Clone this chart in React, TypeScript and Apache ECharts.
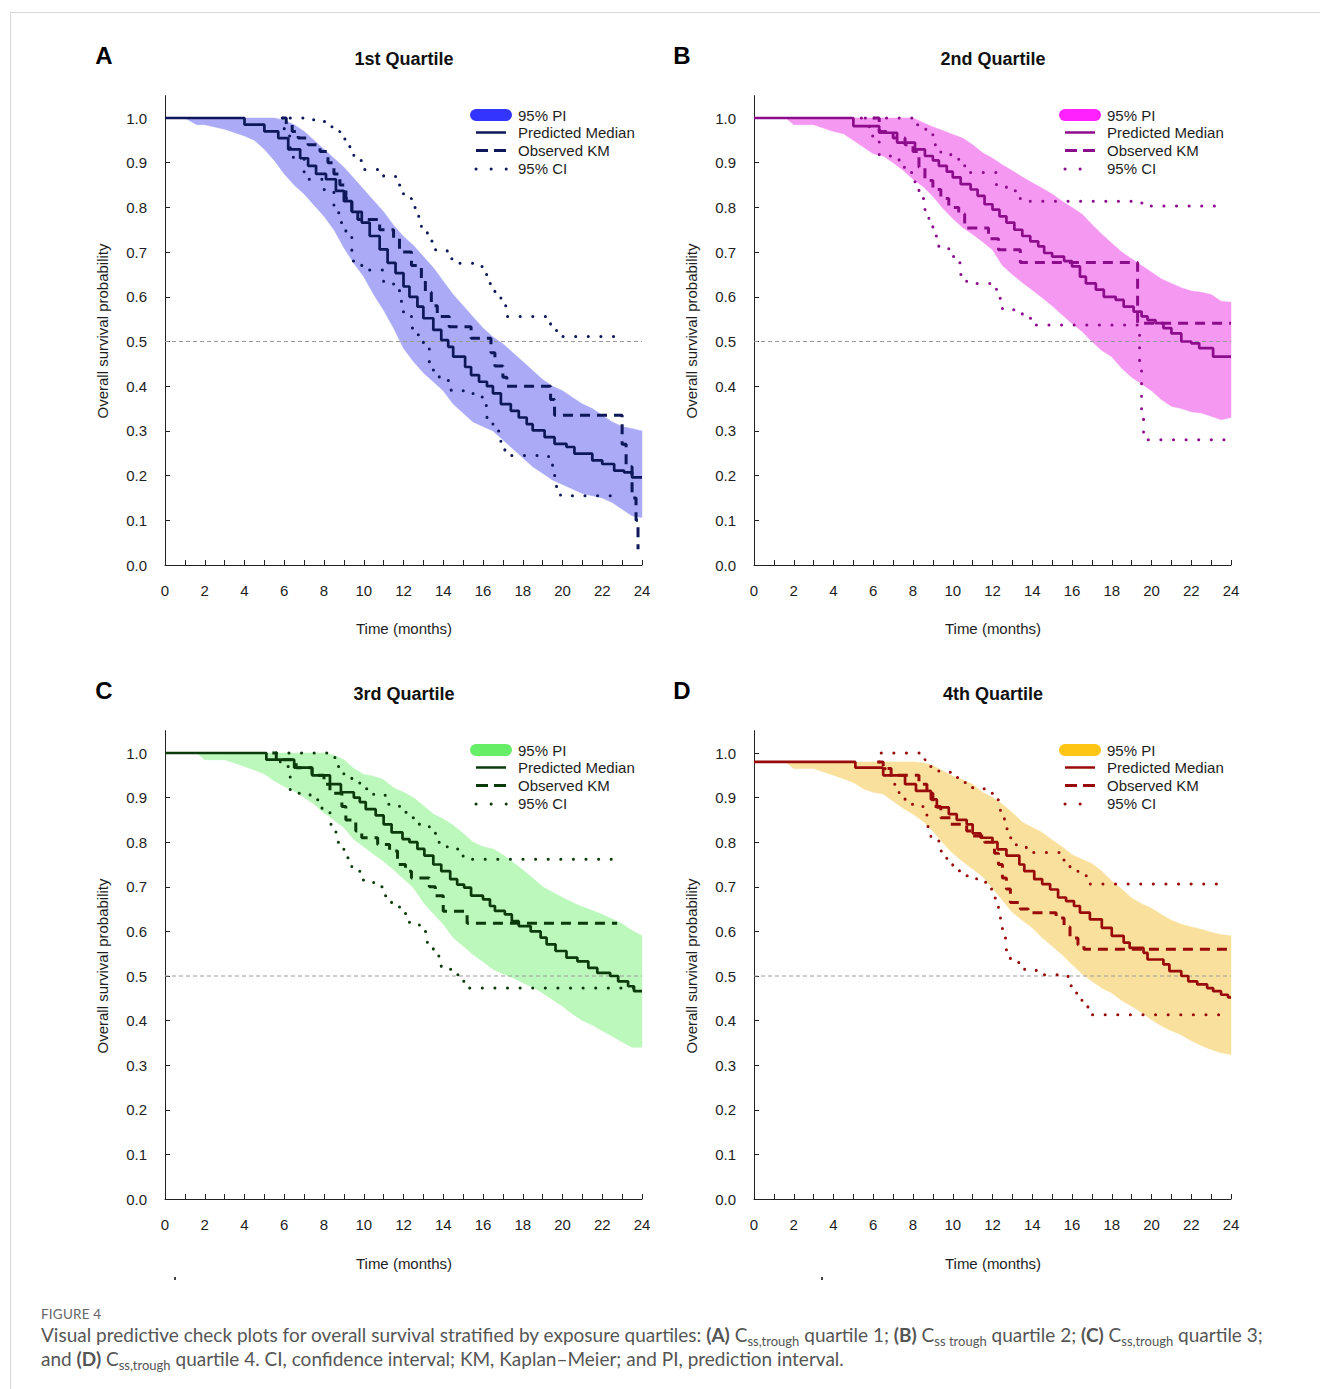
import React, { useEffect, useRef } from "react";
import * as echarts from "echarts";

const FONT = "Arial, Liberation Sans, sans-serif";

// tick labels
const monthTicks = [0, 2, 4, 6, 8, 10, 12, 14, 16, 18, 20, 22, 24];
const survivalTicks = [0, 0.1, 0.2, 0.3, 0.4, 0.5, 0.6, 0.7, 0.8, 0.9, 1.0];

// time points at which the 95% PI band edges were read
const bandTimes = [0, 1, 1.6, 2, 3, 4, 4.5, 5, 5.5, 6, 6.5, 7, 7.5, 8, 8.5, 9, 9.5, 10, 10.5, 11, 11.5, 12, 12.5, 13, 13.5, 14, 14.5, 15, 15.5, 16, 16.5, 17, 17.5, 18, 18.5, 19, 19.5, 20, 20.5, 21, 21.5, 22, 22.5, 23, 23.5, 24];

// ---------- Panel A : 1st quartile ----------
const piUpperA = [1, 1, 1, 1, 1, 1, 1, 1, 1, 0.995, 0.985, 0.97, 0.95, 0.93, 0.91, 0.89, 0.865, 0.84, 0.815, 0.79, 0.76, 0.735, 0.715, 0.69, 0.665, 0.635, 0.605, 0.58, 0.555, 0.53, 0.51, 0.495, 0.475, 0.455, 0.435, 0.415, 0.4, 0.39, 0.375, 0.36, 0.35, 0.335, 0.32, 0.31, 0.305, 0.3];
const piLowerA = [1, 1, 0.985, 0.985, 0.975, 0.96, 0.95, 0.93, 0.905, 0.875, 0.85, 0.83, 0.805, 0.78, 0.75, 0.71, 0.675, 0.645, 0.605, 0.57, 0.53, 0.485, 0.455, 0.43, 0.41, 0.39, 0.36, 0.34, 0.32, 0.31, 0.3, 0.28, 0.26, 0.24, 0.22, 0.205, 0.19, 0.18, 0.17, 0.16, 0.155, 0.15, 0.14, 0.125, 0.11, 0.106];
const medianA = [[0, 1], [4.0, 0.985], [5.0, 0.97], [5.7, 0.955], [6.2, 0.93], [6.8, 0.91], [7.2, 0.893], [7.6, 0.875], [8.1, 0.863], [8.6, 0.837], [9.0, 0.814], [9.4, 0.79], [9.9, 0.766], [10.3, 0.736], [10.8, 0.706], [11.2, 0.676], [11.6, 0.653], [12.0, 0.623], [12.3, 0.6], [12.7, 0.578], [13.0, 0.552], [13.5, 0.526], [13.9, 0.503], [14.25, 0.488], [14.5, 0.466], [15.1, 0.443], [15.4, 0.425], [15.8, 0.41], [16.2, 0.4], [16.5, 0.384], [16.9, 0.36], [17.4, 0.345], [17.8, 0.33], [18.2, 0.315], [18.5, 0.301], [19.1, 0.286], [19.6, 0.271], [20.2, 0.264], [20.6, 0.249], [21.5, 0.234], [22.0, 0.226], [22.6, 0.211], [23.1, 0.207], [23.5, 0.196], [24, 0.196]];
const kmA = [[5.9, 1], [6.1, 0.985], [6.4, 0.97], [6.7, 0.955], [7.2, 0.94], [7.8, 0.925], [8.2, 0.9], [8.5, 0.875], [8.8, 0.85], [9.1, 0.82], [9.4, 0.79], [9.7, 0.773], [10.8, 0.75], [11.5, 0.73], [11.8, 0.7], [12.4, 0.67], [12.9, 0.64], [13.1, 0.61], [13.4, 0.58], [13.7, 0.556], [14.3, 0.533], [15.4, 0.507], [16.4, 0.475], [16.6, 0.445], [17.0, 0.42], [17.2, 0.4], [19.4, 0.37], [19.6, 0.335], [23.0, 0.27], [23.2, 0.22], [23.5, 0.15], [23.7, 0.1], [23.8, 0.035]];
const ciUpperA = [[6.3, 1], [7.0, 0.996], [7.6, 0.992], [8.4, 0.97], [8.8, 0.953], [9.3, 0.93], [9.5, 0.905], [9.9, 0.885], [11.0, 0.87], [11.6, 0.85], [12.0, 0.82], [12.4, 0.8], [12.7, 0.78], [12.9, 0.75], [13.2, 0.725], [13.6, 0.705], [14.2, 0.685], [14.8, 0.675], [15.5, 0.668], [16.0, 0.65], [16.3, 0.63], [16.6, 0.605], [16.9, 0.58], [17.2, 0.556], [19.4, 0.533], [19.7, 0.511], [22.6, 0.511]];
const ciLowerA = [[5.9, 1], [6.0, 0.96], [6.3, 0.912], [7.0, 0.863], [8.0, 0.84], [8.5, 0.788], [8.8, 0.766], [9.1, 0.736], [9.4, 0.68], [9.9, 0.66], [11.0, 0.634], [11.5, 0.616], [11.8, 0.59], [12.0, 0.56], [12.4, 0.53], [12.7, 0.515], [13.0, 0.485], [13.3, 0.436], [13.8, 0.413], [14.4, 0.39], [15.5, 0.376], [16.0, 0.357], [16.2, 0.33], [16.5, 0.3], [16.9, 0.275], [17.1, 0.245], [19.3, 0.234], [19.5, 0.2], [19.7, 0.17], [19.9, 0.155], [22.6, 0.155]];

// ---------- Panel B : 2nd quartile ----------
const piUpperB = [1, 1, 1, 1, 1, 1, 1, 1, 1, 1, 1, 1, 1, 1, 0.99, 0.98, 0.972, 0.963, 0.955, 0.94, 0.922, 0.91, 0.895, 0.882, 0.868, 0.855, 0.843, 0.83, 0.814, 0.8, 0.785, 0.762, 0.74, 0.72, 0.7, 0.685, 0.67, 0.655, 0.64, 0.63, 0.62, 0.613, 0.61, 0.605, 0.59, 0.588];
const piLowerB = [1, 1, 1, 0.985, 0.985, 0.97, 0.965, 0.95, 0.935, 0.92, 0.915, 0.9, 0.883, 0.863, 0.847, 0.825, 0.798, 0.775, 0.755, 0.74, 0.723, 0.705, 0.67, 0.65, 0.632, 0.615, 0.598, 0.58, 0.56, 0.54, 0.523, 0.5, 0.48, 0.466, 0.44, 0.42, 0.405, 0.39, 0.37, 0.355, 0.35, 0.343, 0.34, 0.333, 0.325, 0.33];
const medianB = [[0, 1], [5.0, 0.982], [6.3, 0.967], [7.2, 0.945], [8.1, 0.93], [8.6, 0.915], [9.0, 0.905], [9.3, 0.893], [9.7, 0.88], [10.0, 0.867], [10.4, 0.852], [10.9, 0.84], [11.25, 0.826], [11.6, 0.807], [12.0, 0.795], [12.35, 0.78], [12.7, 0.766], [13.1, 0.75], [13.5, 0.736], [13.9, 0.724], [14.3, 0.713], [14.6, 0.698], [15.0, 0.69], [15.6, 0.68], [16.0, 0.668], [16.4, 0.645], [16.7, 0.63], [17.2, 0.616], [17.6, 0.6], [18.2, 0.593], [18.6, 0.578], [19.1, 0.567], [19.5, 0.556], [19.8, 0.548], [20.2, 0.541], [20.6, 0.53], [21.0, 0.518], [21.5, 0.5], [22.0, 0.496], [22.4, 0.485], [23.1, 0.466], [24, 0.466]];
const kmB = [[6.0, 1], [6.3, 0.97], [7.0, 0.955], [7.6, 0.94], [8.0, 0.925], [8.3, 0.89], [8.6, 0.86], [9.0, 0.84], [9.4, 0.82], [9.8, 0.8], [10.3, 0.785], [10.6, 0.754], [11.8, 0.73], [12.3, 0.705], [13.4, 0.677], [19.3, 0.541], [24, 0.541]];
const ciUpperB = [[5.4, 1], [8.2, 0.985], [8.6, 0.975], [9.0, 0.94], [9.4, 0.92], [9.9, 0.91], [10.3, 0.893], [10.7, 0.878], [12.2, 0.85], [12.7, 0.837], [13.3, 0.82], [13.8, 0.814], [19.0, 0.81], [19.8, 0.803], [23.5, 0.803]];
const ciLowerB = [[5.6, 1], [5.8, 0.96], [6.3, 0.915], [7.3, 0.89], [7.7, 0.878], [8.1, 0.852], [8.3, 0.82], [8.6, 0.795], [8.8, 0.762], [9.0, 0.736], [9.3, 0.71], [9.8, 0.69], [10.2, 0.676], [10.4, 0.65], [10.7, 0.63], [11.9, 0.627], [12.2, 0.597], [12.5, 0.571], [13.5, 0.552], [14.0, 0.537], [19.3, 0.526], [19.4, 0.45], [19.5, 0.34], [19.6, 0.28], [23.7, 0.28]];

// ---------- Panel C : 3rd quartile ----------
const piUpperC = [1, 1, 1, 1, 1, 1, 1, 1, 1, 1, 1, 1, 1, 1, 0.995, 0.985, 0.965, 0.952, 0.948, 0.94, 0.922, 0.912, 0.9, 0.882, 0.863, 0.852, 0.838, 0.82, 0.8, 0.79, 0.785, 0.772, 0.755, 0.738, 0.72, 0.7, 0.688, 0.676, 0.665, 0.655, 0.647, 0.638, 0.628, 0.617, 0.602, 0.59];
const piLowerC = [1, 1, 1, 0.985, 0.985, 0.97, 0.962, 0.953, 0.937, 0.925, 0.915, 0.9, 0.885, 0.866, 0.85, 0.833, 0.806, 0.79, 0.773, 0.757, 0.738, 0.718, 0.698, 0.665, 0.64, 0.616, 0.586, 0.567, 0.548, 0.532, 0.515, 0.505, 0.496, 0.485, 0.475, 0.462, 0.447, 0.432, 0.415, 0.4, 0.39, 0.377, 0.365, 0.352, 0.34, 0.34];
const medianC = [[0, 1], [5.1, 0.985], [6.5, 0.967], [7.4, 0.95], [8.3, 0.93], [8.85, 0.912], [9.5, 0.9], [9.8, 0.89], [10.1, 0.874], [10.6, 0.86], [11.0, 0.84], [11.4, 0.822], [11.95, 0.807], [12.3, 0.8], [12.7, 0.785], [13.05, 0.77], [13.5, 0.75], [13.9, 0.735], [14.35, 0.717], [14.7, 0.705], [15.05, 0.698], [15.4, 0.68], [16.0, 0.672], [16.35, 0.657], [16.6, 0.646], [17.1, 0.638], [17.45, 0.623], [17.8, 0.612], [18.4, 0.6], [18.9, 0.586], [19.2, 0.571], [19.65, 0.556], [20.2, 0.541], [20.75, 0.533], [21.3, 0.518], [21.75, 0.507], [22.4, 0.5], [22.8, 0.488], [23.3, 0.477], [23.6, 0.466], [24, 0.466]];
const kmC = [[5.4, 1], [5.6, 0.985], [6.6, 0.967], [7.4, 0.95], [8.0, 0.93], [8.3, 0.91], [8.9, 0.88], [9.1, 0.85], [9.6, 0.825], [9.9, 0.81], [10.7, 0.795], [11.3, 0.78], [11.7, 0.75], [12.1, 0.735], [12.4, 0.72], [13.3, 0.7], [13.6, 0.68], [14.0, 0.645], [15.2, 0.618], [22.75, 0.618]];
const ciUpperC = [[5.6, 1], [8.2, 0.99], [8.6, 0.97], [9.0, 0.95], [9.4, 0.935], [9.8, 0.92], [10.5, 0.905], [11.2, 0.885], [11.8, 0.867], [12.3, 0.855], [12.8, 0.84], [13.3, 0.82], [13.7, 0.8], [14.2, 0.785], [15.0, 0.762], [22.9, 0.762]];
const ciLowerC = [[5.6, 1], [5.8, 0.97], [6.3, 0.91], [7.3, 0.895], [7.9, 0.87], [8.3, 0.84], [8.6, 0.8], [9.0, 0.765], [9.4, 0.74], [9.8, 0.715], [10.5, 0.7], [11.0, 0.68], [11.4, 0.66], [11.8, 0.64], [12.3, 0.62], [12.8, 0.6], [13.2, 0.57], [13.5, 0.545], [13.9, 0.515], [14.4, 0.503], [15.0, 0.488], [15.3, 0.473], [23.6, 0.473]];

// ---------- Panel D : 4th quartile ----------
const piUpperD = [0.98, 0.98, 0.98, 0.98, 0.98, 0.98, 0.98, 0.98, 0.98, 0.98, 0.98, 0.98, 0.98, 0.98, 0.978, 0.972, 0.96, 0.948, 0.94, 0.93, 0.912, 0.9, 0.885, 0.866, 0.845, 0.833, 0.822, 0.805, 0.79, 0.772, 0.762, 0.752, 0.735, 0.713, 0.695, 0.675, 0.662, 0.652, 0.638, 0.625, 0.616, 0.61, 0.605, 0.598, 0.593, 0.59];
const piLowerD = [0.98, 0.98, 0.98, 0.965, 0.965, 0.95, 0.942, 0.934, 0.92, 0.912, 0.908, 0.892, 0.876, 0.863, 0.847, 0.825, 0.798, 0.775, 0.757, 0.74, 0.723, 0.697, 0.67, 0.643, 0.625, 0.608, 0.586, 0.567, 0.548, 0.526, 0.505, 0.488, 0.473, 0.462, 0.445, 0.432, 0.418, 0.402, 0.388, 0.377, 0.368, 0.355, 0.344, 0.335, 0.328, 0.324];
const medianD = [[0, 0.98], [5.1, 0.967], [6.5, 0.95], [7.6, 0.93], [8.15, 0.915], [8.9, 0.896], [9.2, 0.878], [9.8, 0.863], [10.2, 0.85], [10.7, 0.84], [11.0, 0.82], [11.4, 0.81], [12.0, 0.8], [12.25, 0.784], [12.7, 0.77], [13.35, 0.75], [13.6, 0.735], [14.1, 0.717], [14.5, 0.706], [14.9, 0.694], [15.3, 0.676], [15.7, 0.668], [16.1, 0.657], [16.4, 0.642], [16.9, 0.627], [17.5, 0.608], [18.0, 0.59], [18.6, 0.575], [18.9, 0.563], [19.6, 0.552], [19.8, 0.537], [20.6, 0.526], [20.9, 0.511], [21.5, 0.5], [21.85, 0.488], [22.3, 0.481], [22.8, 0.473], [23.1, 0.466], [23.5, 0.458], [23.85, 0.452], [24, 0.452]];
const kmD = [[6.2, 0.98], [6.5, 0.965], [6.9, 0.95], [8.3, 0.93], [8.7, 0.91], [9.0, 0.88], [9.4, 0.855], [9.9, 0.84], [10.7, 0.825], [11.0, 0.814], [11.6, 0.8], [12.1, 0.775], [12.3, 0.75], [12.5, 0.72], [12.7, 0.695], [12.9, 0.665], [13.4, 0.65], [13.8, 0.642], [15.2, 0.63], [15.6, 0.61], [15.9, 0.585], [16.3, 0.57], [16.6, 0.56], [24, 0.56]];
const ciUpperD = [[6.4, 1.0], [8.6, 0.985], [8.8, 0.97], [9.3, 0.957], [9.9, 0.945], [10.5, 0.934], [11.0, 0.92], [11.7, 0.91], [12.2, 0.895], [12.4, 0.86], [12.6, 0.83], [12.8, 0.81], [13.2, 0.79], [13.7, 0.777], [15.5, 0.76], [15.9, 0.745], [16.3, 0.725], [16.8, 0.706], [23.8, 0.706]];
const ciLowerD = [[6.3, 0.98], [6.6, 0.95], [7.0, 0.93], [7.3, 0.91], [7.6, 0.885], [8.5, 0.865], [8.7, 0.835], [8.9, 0.805], [9.3, 0.78], [9.7, 0.76], [10.0, 0.736], [10.6, 0.725], [11.2, 0.71], [11.8, 0.695], [12.1, 0.675], [12.3, 0.645], [12.4, 0.615], [12.5, 0.585], [12.7, 0.555], [12.9, 0.53], [13.5, 0.515], [14.2, 0.503], [15.6, 0.5], [15.8, 0.478], [16.2, 0.462], [16.5, 0.432], [16.8, 0.413], [23.7, 0.413]];

const referenceLevel = [[0, 0.5], [24, 0.5]];

const panels = [
  { letter: "A", title: "1st Quartile", hi: piUpperA, lo: piLowerA, median: medianA, km: kmA, ciU: ciUpperA, ciL: ciLowerA, line: "#0e1759", band: "#aaaaf6", swatch: "#3434ff" },
  { letter: "B", title: "2nd Quartile", hi: piUpperB, lo: piLowerB, median: medianB, km: kmB, ciU: ciUpperB, ciL: ciLowerB, line: "#8c0c8c", band: "#f598f2", swatch: "#ff22ff" },
  { letter: "C", title: "3rd Quartile", hi: piUpperC, lo: piLowerC, median: medianC, km: kmC, ciU: ciUpperC, ciL: ciLowerC, line: "#0b3a0b", band: "#bcf7bc", swatch: "#66ee66" },
  { letter: "D", title: "4th Quartile", hi: piUpperD, lo: piLowerD, median: medianD, km: kmD, ciU: ciUpperD, ciL: ciLowerD, line: "#990b0b", band: "#f9e09d", swatch: "#ffc515" },
];

// layout of the four panels (pixel positions)
const layouts = [
  { left: 165, top: 95.65, height: 469.35, dx: 0, dy: 0, letterX: 104 },
  { left: 754, top: 95.65, height: 469.35, dx: 589, dy: 0, letterX: 682 },
  { left: 165, top: 730.7, height: 468.3, dx: 0, dy: 635, letterX: 104 },
  { left: 754, top: 730.7, height: 468.3, dx: 589, dy: 635, letterX: 682 },
];
const PLOT_W = 477;

function txt(text: string, x: number, y: number, size: number, opts: any = {}) {
  return {
    type: "text",
    x,
    y,
    rotation: opts.rotation || 0,
    silent: true,
    style: {
      text,
      x: 0,
      y: 0,
      fill: opts.color || "#1e1e1e",
      fontSize: size,
      fontWeight: opts.bold ? "bold" : "normal",
      fontFamily: FONT,
      align: opts.align || "left",
      textAlign: opts.align || "left",
      verticalAlign: "middle",
      textVerticalAlign: "middle",
    },
  };
}

function buildOption() {
  const grid: any[] = [];
  const xAxis: any[] = [];
  const yAxis: any[] = [];
  const series: any[] = [];
  const elements: any[] = [];

  panels.forEach((p, i) => {
    const L = layouts[i];
    grid.push({ left: L.left, top: L.top, width: PLOT_W, height: L.height, containLabel: false, outerBoundsMode: "none" });
    xAxis.push({
      type: "value",
      gridIndex: i,
      min: 0,
      max: 24,
      interval: 1,
      axisLine: { show: true, onZero: false, lineStyle: { color: "#222", width: 1 } },
      axisTick: { show: true, inside: true, length: 5, lineStyle: { color: "#222", width: 1 } },
      axisLabel: {
        show: true,
        margin: 18,
        fontSize: 15,
        fontFamily: FONT,
        color: "#1e1e1e",
        customValues: monthTicks,
        formatter: (v: number) => (monthTicks.indexOf(v) >= 0 ? String(v) : ""),
      },
      splitLine: { show: false },
    });
    yAxis.push({
      type: "value",
      gridIndex: i,
      min: 0,
      max: 1.05,
      interval: 0.1,
      axisLine: { show: true, onZero: false, lineStyle: { color: "#222", width: 1 } },
      axisTick: { show: true, inside: true, length: 5, lineStyle: { color: "#222", width: 1 }, customValues: survivalTicks },
      axisLabel: {
        show: true,
        margin: 18,
        fontSize: 15,
        fontFamily: FONT,
        color: "#1e1e1e",
        customValues: survivalTicks,
        formatter: (v: number) => (v <= 1.0001 ? v.toFixed(1) : ""),
      },
      splitLine: { show: false },
    });

    // 95% PI band
    series.push({
      type: "custom",
      xAxisIndex: i,
      yAxisIndex: i,
      z: 1,
      silent: true,
      data: bandTimes.map((t, k) => [t, p.lo[k], p.hi[k]]),
      encode: { x: 0, y: [1, 2] },
      renderItem: (params: any, api: any) => {
        if (params.dataIndex !== 0) return null;
        const pts: number[][] = [];
        for (let k = 0; k < bandTimes.length; k++) pts.push(api.coord([bandTimes[k], p.hi[k]]));
        for (let k = bandTimes.length - 1; k >= 0; k--) pts.push(api.coord([bandTimes[k], p.lo[k]]));
        return { type: "polygon", shape: { points: pts }, style: { fill: p.band, stroke: p.band, lineWidth: 0.5 } };
      },
    });
    // 0.5 reference line
    series.push({
      type: "line",
      xAxisIndex: i,
      yAxisIndex: i,
      data: referenceLevel,
      symbol: "none",
      silent: true,
      z: 2,
      lineStyle: { color: "#9a9a9a", width: 1, type: [4, 3] },
    });
    const step = (data: number[][], width: number, type: any, cap: string, z: number) => ({
      type: "line",
      xAxisIndex: i,
      yAxisIndex: i,
      data,
      step: "end",
      symbol: "none",
      silent: true,
      z,
      lineStyle: { color: p.line, width, type, cap },
    });
    series.push(step(p.ciU, 3, [0.1, 12.5], "round", 3));
    series.push(step(p.ciL, 3, [0.1, 12.5], "round", 3));
    series.push(step(p.km, 3, [10, 7], "butt", 4));
    series.push(step(p.median, 2.7, "solid", "butt", 5));

    // text + legend
    const dx = L.dx;
    const dy = L.dy;
    elements.push(txt(p.letter, L.letterX, 55 + dy, 24, { bold: true, align: "center", color: "#000" }));
    elements.push(txt(p.title, 404 + dx, 59 + dy, 18, { bold: true, align: "center", color: "#111" }));
    elements.push(txt("Overall survival probability", 102 + dx, 331 + dy, 15, { align: "center", rotation: Math.PI / 2 }));
    elements.push(txt("Time (months)", 404 + dx, 628 + dy, 15, { align: "center" }));

    elements.push({ type: "rect", silent: true, shape: { x: 470 + dx, y: 109 + dy, width: 42, height: 12, r: 6 }, style: { fill: p.swatch } });
    elements.push({ type: "line", silent: true, shape: { x1: 476 + dx, y1: 132.5 + dy, x2: 506 + dx, y2: 132.5 + dy }, style: { stroke: p.line, lineWidth: 2.5 } });
    elements.push({ type: "line", silent: true, shape: { x1: 476 + dx, y1: 150.5 + dy, x2: 506 + dx, y2: 150.5 + dy }, style: { stroke: p.line, lineWidth: 3, lineDash: [12, 6] } });
    elements.push({ type: "line", silent: true, shape: { x1: 476 + dx, y1: 169 + dy, x2: 506.2 + dx, y2: 169 + dy }, style: { stroke: p.line, lineWidth: 3, lineDash: [0.1, 15], lineCap: "round" } });
    elements.push(txt("95% PI", 518 + dx, 115 + dy, 15));
    elements.push(txt("Predicted Median", 518 + dx, 132.5 + dy, 15));
    elements.push(txt("Observed KM", 518 + dx, 150.5 + dy, 15));
    elements.push(txt("95% CI", 518 + dx, 168.5 + dy, 15));
  });

  return {
    animation: false,
    backgroundColor: "transparent",
    grid,
    xAxis,
    yAxis,
    series,
    graphic: { elements },
  };
}

function Chart() {
  const ref = useRef<HTMLDivElement>(null);
  useEffect(() => {
    if (!ref.current) return;
    const chart = echarts.init(ref.current, undefined, { renderer: "svg" });
    chart.setOption(buildOption() as any);
    return () => chart.dispose();
  }, []);
  return <div ref={ref} style={{ position: "absolute", left: 0, top: 0, width: 1320, height: 1300 }} />;
}

const sub: React.CSSProperties = { fontSize: 13, verticalAlign: "-4px", lineHeight: 0 };

export default function App() {
  return (
    <div style={{ position: "absolute", left: 0, top: 0, width: 1320, height: 1389, background: "#fff", overflow: "hidden" }}>
      <div style={{ position: "absolute", left: 10, top: 12, width: 1320, height: 1400, borderTop: "1px solid #d6d6d6", borderLeft: "1px solid #d6d6d6" }} />
      <Chart />
      <div style={{ position: "absolute", left: 174, top: 1277, width: 2, height: 3, background: "#444" }} />
      <div style={{ position: "absolute", left: 821, top: 1277, width: 2, height: 3, background: "#444" }} />
      <div style={{ position: "absolute", left: 41, top: 1306, fontFamily: "Lato, 'Open Sans', sans-serif", color: "#555" }}>
        <div style={{ fontSize: 13.5, lineHeight: "17px", fontWeight: 400, color: "#666", letterSpacing: 0.2 }}>FIGURE 4</div>
        <div style={{ fontSize: 19, lineHeight: "24px", whiteSpace: "nowrap" }}>
          Visual predictive check plots for overall survival stratified by exposure quartiles: <b>(A)</b> C<span style={sub}>ss,trough</span> quartile 1; <b>(B)</b> C<span style={sub}>ss trough</span> quartile 2; <b>(C)</b> C<span style={sub}>ss,trough</span> quartile 3;
          <br />
          and <b>(D)</b> C<span style={sub}>ss,trough</span> quartile 4. CI, confidence interval; KM, Kaplan–Meier; and PI, prediction interval.
        </div>
      </div>
    </div>
  );
}
